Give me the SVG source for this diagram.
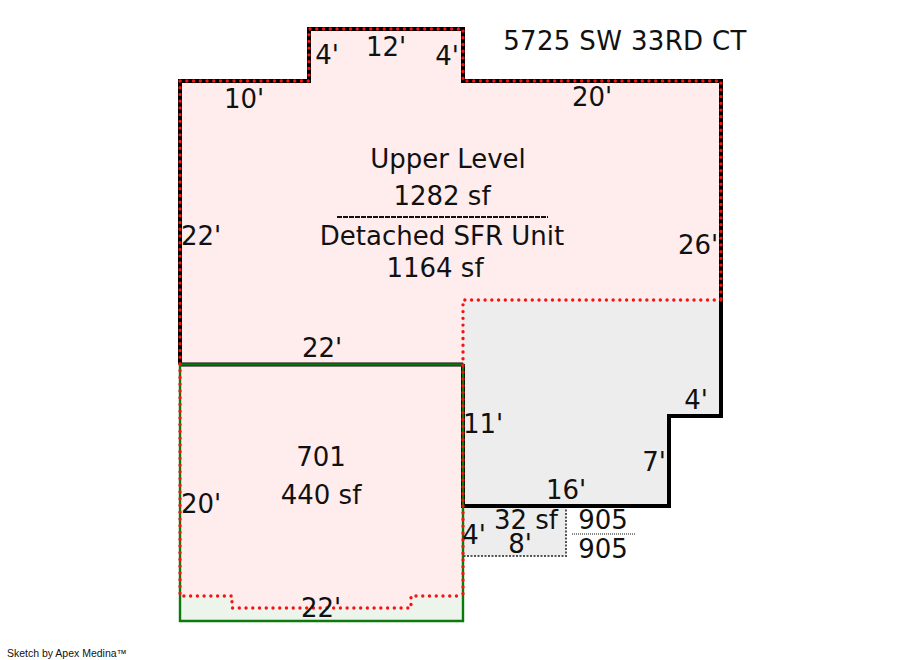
<svg xmlns="http://www.w3.org/2000/svg" width="900" height="660" viewBox="0 0 900 660">
<style>
text{font-family:"DejaVu Sans","Noto Sans",sans-serif;font-size:26px;fill:#111;text-anchor:middle}
.fill{stroke:none}
.line{fill:none;stroke-linejoin:miter}
.blk{stroke:#000;stroke-width:4}
.grn{stroke:#0a7a0a;stroke-width:2.4}
.dot{stroke:#f51414;stroke-width:3.4;stroke-linecap:round;stroke-dasharray:0.01 6.73}
</style>
<rect width="900" height="660" fill="#fff"/>
<g id="areas">
<path class="fill" fill="#ffecec" d="M180 81H309V29H463V81H721V300H463V364H180Z"/>
<rect class="fill" x="180" y="364" width="283" height="257" fill="#ffecec"/>
<path class="fill" fill="#ededed" d="M463 300H721V416H669V506H463Z"/>
<path class="fill" fill="#edf4ec" d="M180 596H232V608H411V596H463V621H180Z"/>
<rect class="fill" x="463" y="506" width="103" height="50" fill="#ededed"/>
</g>
<g id="connectors">
<path class="line" stroke="#555" stroke-width="2" stroke-dasharray="2 1.5" d="M566 506V556H463"/>
<path class="line blk" d="M180 364V81H309V29H463V81H721V416H669V506H463V364"/>
<path class="line blk" d="M180 364.5H463"/>
<path class="line grn" d="M180 364.5H463V621H180Z"/>
<path class="line dot" d="M180 364V81H309V29H463V81H721V300"/>
<path class="line dot" d="M721 300H463V506"/>
<path class="line dot" d="M463 506V596M180 364V596H232V608H411V596H463"/>
<path class="line" stroke="#111" stroke-width="1" stroke-dasharray="1 1" d="M572 534H636"/>
<path class="line" stroke="#111" stroke-width="2" stroke-dasharray="5 1" d="M337 217H548"/>
</g>
<g id="labels">
<text x="448" y="168">Upper Level</text>
<text x="442" y="205">1282 sf</text>
<text x="442" y="245">Detached SFR Unit</text>
<text x="435" y="277">1164 sf</text>
<text x="321" y="466">701</text>
<text x="321" y="504">440 sf</text>
<text x="625" y="50" letter-spacing="0.35">5725 SW 33RD CT</text>
<text x="327" y="64">4'</text>
<text x="386" y="56">12'</text>
<text x="447" y="65">4'</text>
<text x="244" y="108">10'</text>
<text x="592" y="106">20'</text>
<text x="201" y="245">22'</text>
<text x="698" y="254">26'</text>
<text x="322" y="357">22'</text>
<text x="696" y="409">4'</text>
<text x="483" y="433">11'</text>
<text x="654" y="471">7'</text>
<text x="566" y="499">16'</text>
<text x="201" y="513">20'</text>
<text x="474" y="544">4'</text>
<text x="526" y="529">32 sf</text>
<text x="520" y="553">8'</text>
<text x="603" y="529">905</text>
<text x="603" y="558">905</text>
<text x="321" y="617">22'</text>
<text x="67" y="657" style="font-family:'Liberation Sans',sans-serif;font-size:10.5px">Sketch by Apex Medina™</text>
</g>
</svg>
